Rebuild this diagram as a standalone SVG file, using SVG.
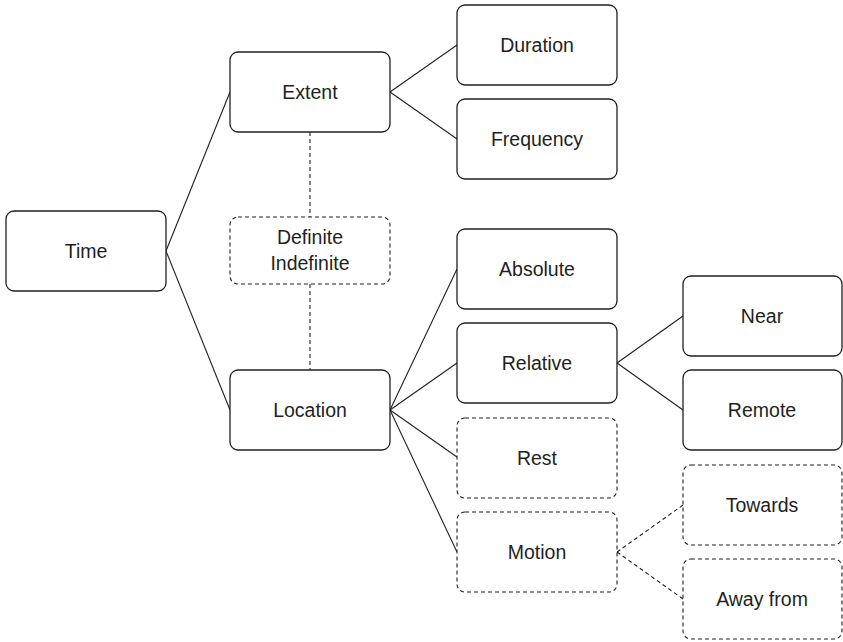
<svg xmlns="http://www.w3.org/2000/svg" width="843" height="642" viewBox="0 0 843 642">
<style>
.box{fill:#fff;stroke:#231f20;stroke-width:1.3}
.dbox{fill:#fff;stroke:#231f20;stroke-width:1.1;stroke-dasharray:4 3}
.ln{stroke:#231f20;stroke-width:1.1;fill:none}
.dl{stroke:#231f20;stroke-width:1.1;fill:none;stroke-dasharray:4 3}
text{font-family:"Liberation Sans",Arial,sans-serif;font-size:19.5px;fill:#231f20;text-anchor:middle}
</style>
<rect width="843" height="642" fill="#fff"/>
<g id="connectors">
<line class="ln" x1="166" y1="251" x2="230" y2="92"/>
<line class="ln" x1="166" y1="251" x2="230" y2="410"/>
<line class="ln" x1="390" y1="92" x2="457" y2="45"/>
<line class="ln" x1="390" y1="92" x2="457" y2="139"/>
<line class="dl" x1="310" y1="132" x2="310" y2="217"/>
<line class="dl" x1="310" y1="284" x2="310" y2="370"/>
<line class="ln" x1="390" y1="410" x2="457" y2="269"/>
<line class="ln" x1="390" y1="410" x2="457" y2="363"/>
<line class="ln" x1="390" y1="410" x2="457" y2="457"/>
<line class="ln" x1="390" y1="410" x2="457" y2="552"/>
<line class="ln" x1="617" y1="363" x2="683" y2="316"/>
<line class="ln" x1="617" y1="363" x2="683" y2="410"/>
<line class="dl" x1="617" y1="552" x2="683" y2="505"/>
<line class="dl" x1="617" y1="552" x2="683" y2="599"/>
</g>
<g id="time"><rect class="box" x="6" y="211" width="160" height="80" rx="8"/><text x="86" y="258">Time</text></g>
<g id="extent"><rect class="box" x="230" y="52" width="160" height="80" rx="8"/><text x="310" y="99">Extent</text></g>
<g id="definite"><rect class="dbox" x="230" y="217" width="160" height="67" rx="8"/><text x="310" y="244">Definite</text><text x="310" y="270">Indefinite</text></g>
<g id="location"><rect class="box" x="230" y="370" width="160" height="80" rx="8"/><text x="310" y="417">Location</text></g>
<g id="duration"><rect class="box" x="457" y="5" width="160" height="80" rx="8"/><text x="537" y="52">Duration</text></g>
<g id="frequency"><rect class="box" x="457" y="99" width="160" height="80" rx="8"/><text x="537" y="146">Frequency</text></g>
<g id="absolute"><rect class="box" x="457" y="229" width="160" height="80" rx="8"/><text x="537" y="276">Absolute</text></g>
<g id="relative"><rect class="box" x="457" y="323" width="160" height="80" rx="8"/><text x="537" y="370">Relative</text></g>
<g id="rest"><rect class="dbox" x="457" y="418" width="160" height="80" rx="8"/><text x="537" y="465">Rest</text></g>
<g id="motion"><rect class="dbox" x="457" y="512" width="160" height="80" rx="8"/><text x="537" y="559">Motion</text></g>
<g id="near"><rect class="box" x="683" y="276" width="159" height="80" rx="8"/><text x="762" y="323">Near</text></g>
<g id="remote"><rect class="box" x="683" y="370" width="159" height="80" rx="8"/><text x="762" y="417">Remote</text></g>
<g id="towards"><rect class="dbox" x="683" y="465" width="159" height="80" rx="8"/><text x="762" y="512">Towards</text></g>
<g id="awayfrom"><rect class="dbox" x="683" y="559" width="159" height="80" rx="8"/><text x="762" y="606">Away from</text></g>
</svg>
